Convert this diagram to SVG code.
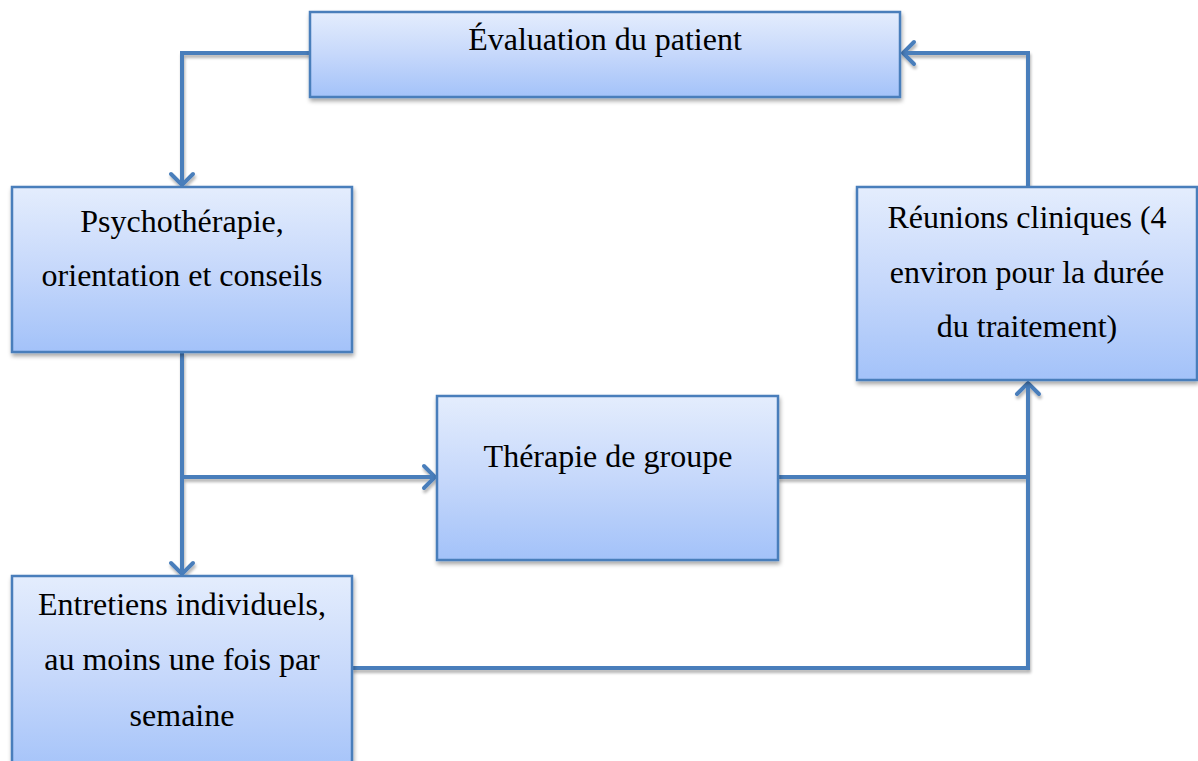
<svg xmlns="http://www.w3.org/2000/svg" width="1198" height="761" viewBox="0 0 1198 761">
<defs>
<linearGradient id="g" x1="0" y1="0" x2="0" y2="1">
<stop offset="0" stop-color="#e4edfd"/>
<stop offset="0.5" stop-color="#c6d8fb"/>
<stop offset="1" stop-color="#a3c2f9"/>
</linearGradient>
<filter id="sh" x="-10%" y="-10%" width="130%" height="140%">
<feGaussianBlur in="SourceAlpha" stdDeviation="2"/>
<feOffset dx="1" dy="3" result="b"/>
<feComponentTransfer><feFuncA type="linear" slope="0.35"/></feComponentTransfer>
<feMerge><feMergeNode/><feMergeNode in="SourceGraphic"/></feMerge>
</filter>
<filter id="shl" filterUnits="userSpaceOnUse" x="0" y="0" width="1198" height="761">
<feGaussianBlur in="SourceAlpha" stdDeviation="1.8"/>
<feOffset dx="1" dy="3" result="b"/>
<feComponentTransfer><feFuncA type="linear" slope="0.3"/></feComponentTransfer>
<feMerge><feMergeNode/><feMergeNode in="SourceGraphic"/></feMerge>
</filter>
<marker id="arr" markerUnits="userSpaceOnUse" markerWidth="40" markerHeight="40" refX="0" refY="0" orient="auto" viewBox="-20 -20 40 40" overflow="visible">
<path d="M-11,-11 L0,0 L-11,11" fill="none" stroke="#4a7ebb" stroke-width="4" stroke-linecap="round" stroke-linejoin="miter"/>
</marker>
</defs>
<style>
.box{fill:url(#g);stroke:#4a7ebb;stroke-width:2.5;filter:url(#sh)}
.t{font-family:"Liberation Serif","Times New Roman",serif;font-size:32px;fill:#000;text-anchor:middle}
.c{fill:none;stroke:#4a7ebb;stroke-width:4;stroke-linejoin:miter}
</style>
<g id="connectors" filter="url(#shl)">
<path class="c" d="M310,53 H182 V185" marker-end="url(#arr)"/>
<path class="c" d="M182,352 V574" marker-end="url(#arr)"/>
<path class="c" d="M182,477 H435" marker-end="url(#arr)"/>
<path class="c" d="M778,477 H1028"/>
<path class="c" d="M352,668 H1028 V383" marker-end="url(#arr)"/>
<path class="c" d="M1028,187 V53 H903" marker-end="url(#arr)"/>
</g>
<g id="node-evaluation">
<rect class="box" x="310" y="12" width="590" height="85"/>
<text class="t" x="605" y="50">Évaluation du patient</text>
</g>
<g id="node-psychotherapie">
<rect class="box" x="12" y="187" width="340" height="165"/>
<text class="t" x="182" y="232">Psychothérapie,</text>
<text class="t" x="182" y="286">orientation et conseils</text>
</g>
<g id="node-groupe">
<rect class="box" x="437" y="396" width="341" height="164"/>
<text class="t" x="608" y="467">Thérapie de groupe</text>
</g>
<g id="node-reunions">
<rect class="box" x="857" y="187" width="340" height="193"/>
<text class="t" x="1027" y="228">Réunions cliniques (4</text>
<text class="t" x="1027" y="283">environ pour la durée</text>
<text class="t" x="1027" y="337">du traitement)</text>
</g>
<g id="node-entretiens">
<rect class="box" x="12" y="576" width="340" height="200"/>
<text class="t" x="182" y="615">Entretiens individuels,</text>
<text class="t" x="182" y="670">au moins une fois par</text>
<text class="t" x="182" y="726">semaine</text>
</g>
</svg>
